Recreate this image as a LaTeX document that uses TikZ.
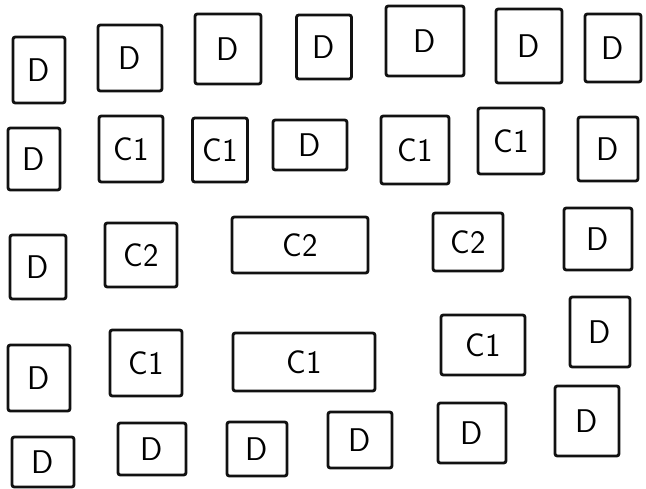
\documentclass[tikz,border=0pt]{standalone}
\usepackage{tikz}
\usetikzlibrary{positioning}
\definecolor{InkBlack}{HTML}{111111}
\tikzset{
  cell/.style={draw=InkBlack, line width=2.4pt, rounded corners=2pt, fill=white, align=center, inner sep=2pt, font=\sffamily\fontsize{28}{32}\selectfont},
  sz/.style 2 args={minimum width=#1*0.3mm, minimum height=#2*0.3mm}
}
\begin{document}
\begin{tikzpicture}[x=0.3mm, y=-0.3mm]
\useasboundingbox[fill=white] (0,0) rectangle (646,488);
\node[cell, sz={52}{66}] (d11) at (39,70) {D};
\node[cell, sz={64}{66}] (d12) at (130,58) {D};
\node[cell, sz={66}{70}] (d13) at (228,49) {D};
\node[cell, sz={55}{64}] (d14) at (324,47) {D};
\node[cell, sz={78}{70}] (d15) at (425,41) {D};
\node[cell, sz={66}{74}] (d16) at (529,46) {D};
\node[cell, sz={56}{68}] (d17) at (613,48) {D};
\node[cell, sz={52}{62}] (d21) at (34,159) {D};
\node[cell, sz={64}{66}] (c21) at (131,149) {C1};
\node[cell, sz={55}{64}] (c22) at (220,150) {C1};
\node[cell, sz={74}{50}] (d22) at (310,145) {D};
\node[cell, sz={68}{68}] (c23) at (415,150) {C1};
\node[cell, sz={66}{66}] (c24) at (511,141) {C1};
\node[cell, sz={60}{64}] (d23) at (608,149) {D};
\node[cell, sz={56}{64}] (d31) at (38,267) {D};
\node[cell, sz={72}{64}] (e31) at (141,255) {C2};
\node[cell, sz={136}{56}] (e32) at (300,245) {C2};
\node[cell, sz={70}{58}] (e33) at (468,242) {C2};
\node[cell, sz={68}{62}] (d32) at (598,239) {D};
\node[cell, sz={62}{66}] (d41) at (39,378) {D};
\node[cell, sz={72}{66}] (c41) at (146,363) {C1};
\node[cell, sz={142}{58}] (c42) at (304,362) {C1};
\node[cell, sz={84}{60}] (c43) at (483,345) {C1};
\node[cell, sz={60}{70}] (d42) at (600,332) {D};
\node[cell, sz={62}{50}] (d51) at (43,462) {D};
\node[cell, sz={68}{52}] (d52) at (152,449) {D};
\node[cell, sz={60}{54}] (d53) at (257,449) {D};
\node[cell, sz={64}{56}] (d54) at (360,440) {D};
\node[cell, sz={68}{60}] (d55) at (472,433) {D};
\node[cell, sz={64}{70}] (d56) at (587,421) {D};
\end{tikzpicture}
\end{document}
